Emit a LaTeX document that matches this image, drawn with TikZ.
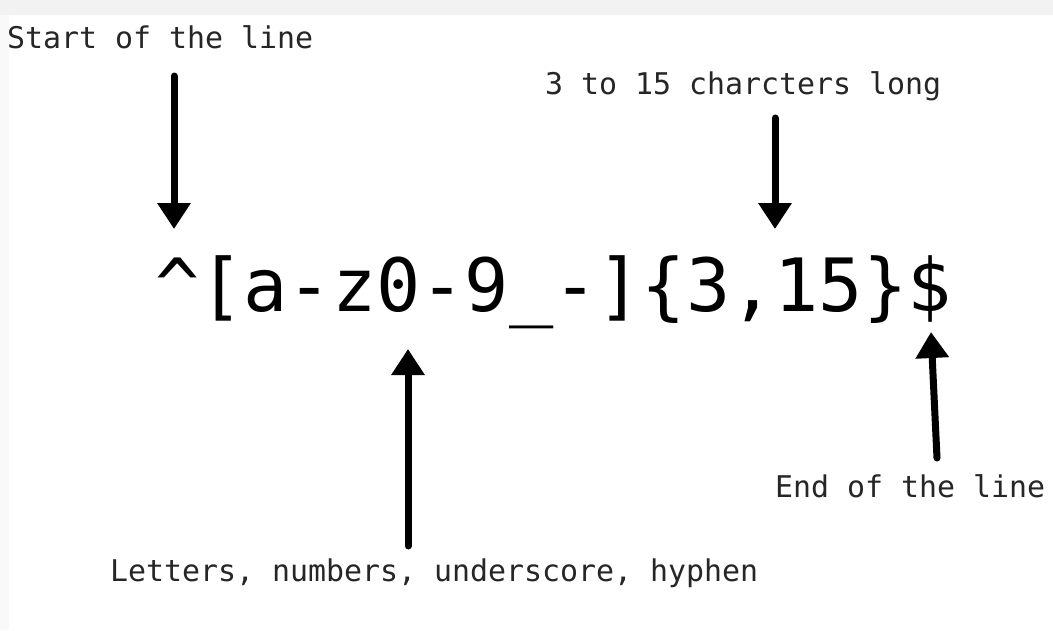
\documentclass[tikz,border=0pt]{standalone}
\usepackage{fontspec}
\setmonofont{DejaVu Sans Mono}
\usetikzlibrary{arrows.meta}
\begin{document}
\begin{tikzpicture}[x=1pt,y=-1pt,
  lbl/.style={font=\ttfamily\fontsize{29.9}{34}\selectfont, inner sep=0pt, anchor=base west, text=black!85},
  big/.style={font=\ttfamily\fontsize{73.5}{80}\selectfont, inner sep=0pt, anchor=base west},
  arr/.style={line width=7pt, line cap=round, -{Triangle[length=26pt,width=32pt]}}]
\useasboundingbox (0,0) rectangle (1053,630);
\fill[gray!10] (0,0) rectangle (1053,15);
\fill[gray!5] (0,15) rectangle (9,630);
\fill[white] (9,15) rectangle (1053,630);
\node[lbl] (start) at (7,48) {Start of the line};
\node[lbl] (len) at (545,94) {3 to 15 charcters long};
\node[lbl] (end) at (775,497) {End of the line};
\node[lbl] (chars) at (110,581) {Letters, numbers, underscore, hyphen};
\node[big] (rx) at (155,311) {\^{}[a-z0-9\_-]\{3,15\}\$};
\coordinate (a1s) at (174,76);
\coordinate (a1e) at (174,229);
\coordinate (a2s) at (775,118);
\coordinate (a2e) at (775,229);
\coordinate (a3s) at (408,546);
\coordinate (a3e) at (408,349);
\coordinate (a4s) at (937,458);
\coordinate (a4e) at (931,332);
\draw[arr] (a1s) -- (a1e);
\draw[arr] (a2s) -- (a2e);
\draw[arr] (a3s) -- (a3e);
\draw[arr] (a4s) -- (a4e);
\end{tikzpicture}
\end{document}
